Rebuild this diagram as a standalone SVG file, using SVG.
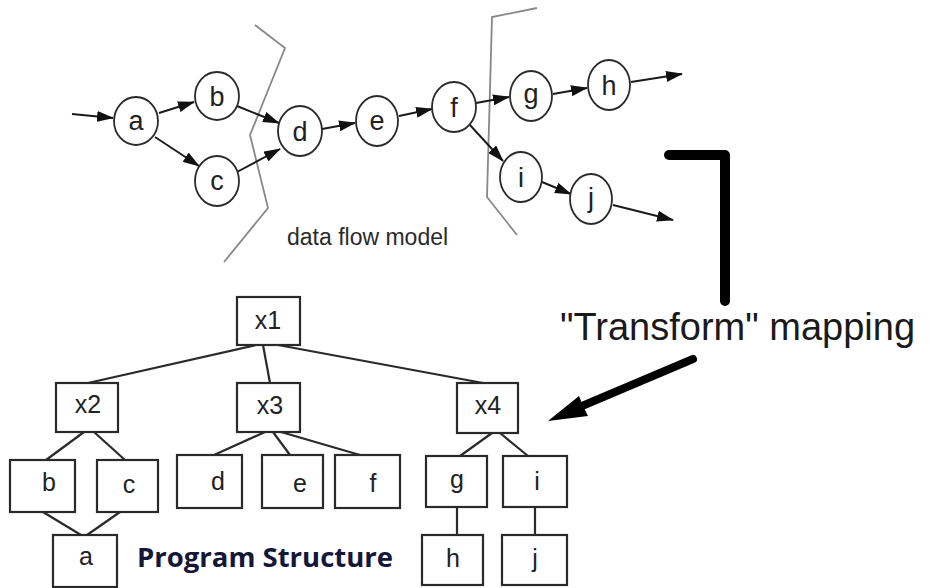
<svg xmlns="http://www.w3.org/2000/svg" width="931" height="588" viewBox="0 0 931 588">
  <defs>
    <marker id="tri" markerUnits="userSpaceOnUse" markerWidth="17" markerHeight="11" refX="16" refY="5.5" orient="auto">
      <path d="M0,0 L17,5.5 L0,11 z" fill="#111"/>
    </marker>
  </defs>
  <style>
    .bubble { fill: #fff; stroke: #2a2a2a; stroke-width: 1.8; }
    .box { fill: #fff; stroke: #2a2a2a; stroke-width: 2.2; }
    .lbl { font-family: "Liberation Sans", Arial, sans-serif; font-size: 27px; fill: #222; text-anchor: middle; }
    .tlbl { font-family: "Liberation Sans", Arial, sans-serif; font-size: 25px; fill: #222; text-anchor: middle; }
    .flow { stroke: #1a1a1a; stroke-width: 1.9; fill: none; marker-end: url(#tri); }
    .tree { stroke: #2a2a2a; stroke-width: 2.2; fill: none; }
    .cut { stroke: #888; stroke-width: 1.8; fill: none; }
  </style>
  <rect width="931" height="588" fill="#fff"/>

  <!-- boundary cuts through the flow -->
  <polyline class="cut" points="255,25 285,48 250,135 268,208 224,262"/>
  <polyline class="cut" points="537,8 492,17 487,197 517,235"/>

  <!-- connectors -->
  <g id="connectors">
    <line class="flow" x1="72" y1="114" x2="113" y2="118"/>
    <line class="flow" x1="159" y1="113" x2="194" y2="102"/>
    <line class="flow" x1="155" y1="137" x2="199" y2="166"/>
    <line class="flow" x1="237" y1="106" x2="279" y2="123"/>
    <line class="flow" x1="237" y1="172" x2="280" y2="149"/>
    <line class="flow" x1="322" y1="129" x2="355" y2="123"/>
    <line class="flow" x1="399" y1="116" x2="432" y2="109"/>
    <line class="flow" x1="476" y1="103" x2="509" y2="97"/>
    <line class="flow" x1="553" y1="94" x2="587" y2="88"/>
    <line class="flow" x1="631" y1="82" x2="682" y2="74"/>
    <line class="flow" x1="469" y1="124" x2="503" y2="161"/>
    <line class="flow" x1="542" y1="182" x2="571" y2="194"/>
    <line class="flow" x1="613" y1="205" x2="673" y2="220"/>

    <line class="tree" x1="256" y1="345" x2="88" y2="383"/>
    <line class="tree" x1="263" y1="345" x2="270" y2="383"/>
    <line class="tree" x1="278" y1="345" x2="483" y2="383"/>
    <line class="tree" x1="84" y1="432" x2="46" y2="460"/>
    <line class="tree" x1="94" y1="432" x2="125" y2="460"/>
    <line class="tree" x1="43" y1="512" x2="81" y2="535"/>
    <line class="tree" x1="120" y1="512" x2="87" y2="535"/>
    <line class="tree" x1="265" y1="432" x2="214" y2="455"/>
    <line class="tree" x1="273" y1="432" x2="290" y2="455"/>
    <line class="tree" x1="281" y1="432" x2="360" y2="455"/>
    <line class="tree" x1="492" y1="433" x2="460" y2="456"/>
    <line class="tree" x1="500" y1="433" x2="528" y2="456"/>
    <line class="tree" x1="457" y1="507" x2="457" y2="535"/>
    <line class="tree" x1="535" y1="507" x2="535" y2="535"/>
  </g>

  <!-- data flow bubbles -->
  <g id="flow-a"><ellipse class="bubble" cx="136" cy="121" rx="22" ry="24"/><text class="lbl" x="136" y="130">a</text></g>
  <g id="flow-b"><ellipse class="bubble" cx="217" cy="96" rx="22" ry="24"/><text class="lbl" x="217" y="106">b</text></g>
  <g id="flow-c"><ellipse class="bubble" cx="217" cy="181" rx="22" ry="25"/><text class="lbl" x="217" y="190">c</text></g>
  <g id="flow-d"><ellipse class="bubble" cx="300" cy="131" rx="22" ry="25"/><text class="lbl" x="300" y="141">d</text></g>
  <g id="flow-e"><ellipse class="bubble" cx="377" cy="121" rx="21" ry="25"/><text class="lbl" x="377" y="130">e</text></g>
  <g id="flow-f"><ellipse class="bubble" cx="454" cy="107" rx="22" ry="25"/><text class="lbl" x="454" y="117">f</text></g>
  <g id="flow-g"><ellipse class="bubble" cx="531" cy="96" rx="21" ry="25"/><text class="lbl" x="531" y="103">g</text></g>
  <g id="flow-h"><ellipse class="bubble" cx="609" cy="85" rx="21" ry="25"/><text class="lbl" x="609" y="95">h</text></g>
  <g id="flow-i"><ellipse class="bubble" cx="521" cy="177" rx="21" ry="25"/><text class="lbl" x="521" y="187">i</text></g>
  <g id="flow-j"><ellipse class="bubble" cx="591" cy="199" rx="21" ry="25"/><text class="lbl" x="591" y="207">j</text></g>

  <text x="287" y="245" font-family="Liberation Sans, Arial, sans-serif" font-size="23" fill="#2a2a2a">data flow model</text>

  <!-- bracket and mapping arrow -->
  <path d="M669,155 H725 V301" fill="none" stroke="#000" stroke-width="10" stroke-linecap="round" stroke-linejoin="round"/>
  <text x="560" y="340" font-family="Liberation Sans, Arial, sans-serif" font-size="38" fill="#1a1a1a">"Transform" mapping</text>
  <line x1="693" y1="359" x2="582" y2="406" stroke="#000" stroke-width="8" stroke-linecap="round"/>
  <polygon points="548,421 579,396 583,406 588,416" fill="#000"/>

  <!-- program structure tree -->
  <g id="tree-x1"><rect class="box" x="237" y="297" width="63" height="48"/><text class="tlbl" x="268" y="329">x1</text></g>
  <g id="tree-x2"><rect class="box" x="56" y="383" width="62" height="49"/><text class="tlbl" x="88" y="413">x2</text></g>
  <g id="tree-x3"><rect class="box" x="237" y="383" width="63" height="49"/><text class="tlbl" x="270" y="414">x3</text></g>
  <g id="tree-x4"><rect class="box" x="457" y="383" width="61" height="50"/><text class="tlbl" x="488" y="414">x4</text></g>
  <g id="tree-b"><rect class="box" x="10" y="460" width="65" height="52"/><text class="tlbl" x="49" y="491">b</text></g>
  <g id="tree-c"><rect class="box" x="97" y="460" width="61" height="52"/><text class="tlbl" x="129" y="493">c</text></g>
  <g id="tree-d"><rect class="box" x="177" y="455" width="65" height="53"/><text class="tlbl" x="218" y="490">d</text></g>
  <g id="tree-e"><rect class="box" x="262" y="455" width="61" height="53"/><text class="tlbl" x="300" y="492">e</text></g>
  <g id="tree-f"><rect class="box" x="335" y="455" width="65" height="53"/><text class="tlbl" x="373" y="492">f</text></g>
  <g id="tree-g"><rect class="box" x="426" y="456" width="61" height="51"/><text class="tlbl" x="457" y="488">g</text></g>
  <g id="tree-i"><rect class="box" x="503" y="456" width="64" height="51"/><text class="tlbl" x="537" y="490">i</text></g>
  <g id="tree-a"><rect class="box" x="53" y="535" width="64" height="52"/><text class="tlbl" x="86" y="565">a</text></g>
  <g id="tree-h"><rect class="box" x="422" y="535" width="61" height="50"/><text class="tlbl" x="453" y="567">h</text></g>
  <g id="tree-j"><rect class="box" x="502" y="535" width="65" height="50"/><text class="tlbl" x="535" y="567">j</text></g>

  <text x="137" y="567" font-family="Open Sans, Lato, sans-serif" font-weight="bold" font-size="27" textLength="256" lengthAdjust="spacingAndGlyphs" fill="#15173a">Program Structure</text>
</svg>
